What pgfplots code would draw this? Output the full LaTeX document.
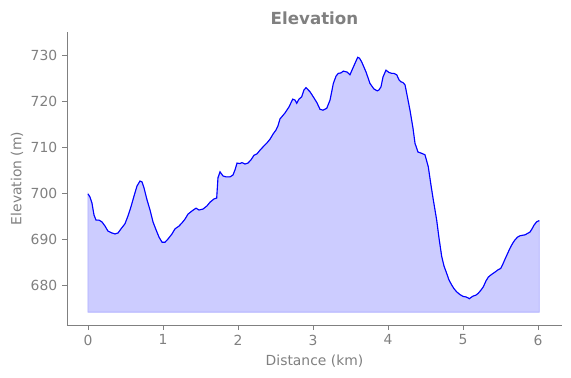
\documentclass[border=0pt]{standalone}
\usepackage{pgfplots}
\pgfplotsset{compat=1.18}
\usepackage{pgfplotstable}
\usepackage{fontspec}
\setmainfont{DejaVu Sans}
\definecolor{mgray}{RGB}{128,128,128}
\definecolor{fillc}{RGB}{204,204,255}
\definecolor{edgec}{RGB}{178,178,255}
\pgfplotstableread{
x y
0 699.8
0.027 699.1
0.053 697.8
0.08 695.2
0.107 694.1
0.147 694.1
0.187 693.7
0.227 692.8
0.267 691.7
0.32 691.3
0.36 691.1
0.4 691.3
0.44 692.2
0.493 693.3
0.533 695
0.573 697
0.613 699.3
0.653 701.5
0.693 702.6
0.72 702.4
0.747 701.1
0.787 698.5
0.827 696.3
0.867 693.7
0.907 692
0.947 690.4
0.987 689.3
1.027 689.3
1.067 690
1.12 691.1
1.16 692.2
1.213 692.8
1.253 693.5
1.293 694.3
1.333 695.4
1.387 696.1
1.44 696.7
1.48 696.3
1.533 696.5
1.587 697.2
1.627 698
1.68 698.7
1.716 698.9
1.733 703.3
1.76 704.6
1.8 703.7
1.84 703.5
1.893 703.5
1.933 703.9
1.96 705
1.987 706.5
2.027 706.4
2.053 706.6
2.093 706.3
2.133 706.5
2.173 707.2
2.213 708.2
2.253 708.5
2.293 709.3
2.333 710
2.387 710.9
2.427 711.7
2.467 712.8
2.507 713.7
2.533 714.6
2.56 716.1
2.627 717.4
2.68 718.7
2.729 720.4
2.76 720.2
2.783 719.5
2.813 720.4
2.849 720.9
2.88 722.4
2.907 722.9
2.96 722
3.004 720.9
3.053 719.6
3.093 718.2
3.133 718
3.183 718.4
3.227 720.2
3.271 723.8
3.307 725.4
3.337 726
3.373 726.1
3.404 726.5
3.453 726.3
3.493 725.7
3.533 727.2
3.596 729.5
3.62 729.3
3.649 728.5
3.707 726.3
3.76 723.8
3.813 722.6
3.857 722.2
3.88 722.4
3.907 723.1
3.933 725.2
3.973 726.7
4.013 726.2
4.049 726
4.08 726
4.116 725.7
4.147 724.6
4.169 724.2
4.2 724
4.227 723.5
4.267 720.2
4.293 718
4.333 714.1
4.36 710.8
4.4 708.9
4.453 708.6
4.493 708.3
4.537 705.7
4.573 701.7
4.604 698.5
4.649 694.1
4.68 690.2
4.716 686.2
4.747 684.1
4.783 682.5
4.813 681.1
4.849 680
4.88 679.2
4.916 678.5
4.96 677.9
5.004 677.5
5.04 677.4
5.067 677.2
5.084 677
5.107 677.3
5.137 677.6
5.173 677.8
5.204 678.2
5.24 678.9
5.271 679.6
5.307 680.9
5.337 681.7
5.373 682.2
5.427 682.8
5.467 683.3
5.503 683.6
5.533 684.6
5.56 685.6
5.593 686.8
5.627 688
5.66 689
5.693 689.8
5.727 690.4
5.76 690.7
5.827 690.9
5.893 691.5
5.92 692.2
5.947 693
5.98 693.7
6.017 694
}\elev
\pgfplotstableread{
x y
0 674.1
}\polystart
\pgfplotstableread{
x y
6.017 674.1
}\polyend
\pgfplotstablevertcat{\polystart}{\elev}
\pgfplotstablevertcat{\polystart}{\polyend}
\begin{document}
\begin{tikzpicture}
\useasboundingbox (0,0) rectangle (411.12pt,272.16pt);
\begin{axis}[
  at={(48.24pt,38.16pt)}, anchor=south west,
  scale only axis, width=356.4pt, height=210.96pt,
  xmin=-0.28, xmax=6.32, ymin=671.3, ymax=735,
  axis lines=left, axis line style={-, mgray, line width=0.6pt},
  xtick={0,1,2,3,4,5,6}, ytick={680,690,700,710,720,730},
  tick align=outside, major tick length=3.5pt,
  tick style={mgray, line width=0.6pt},
  ticklabel style={font=\fontsize{10}{12}\selectfont, text=mgray},
  /pgf/number format/assume math mode=true,
  xlabel={Distance (km)}, ylabel={Elevation (m)},
  label style={font=\fontsize{10}{12}\selectfont, text=mgray},
  ylabel shift=-1.5pt,
  title={Elevation},
  title style={font=\bfseries\fontsize{12}{14}\selectfont, text=mgray, yshift=-4.2pt},
]
\addplot[fill=fillc, draw=edgec, line width=0.6pt] table[x=x,y=y] {\polystart} -- cycle;
\addplot[blue, line width=0.8pt] table[x=x,y=y] {\elev};
\end{axis}
\end{tikzpicture}
\end{document}
